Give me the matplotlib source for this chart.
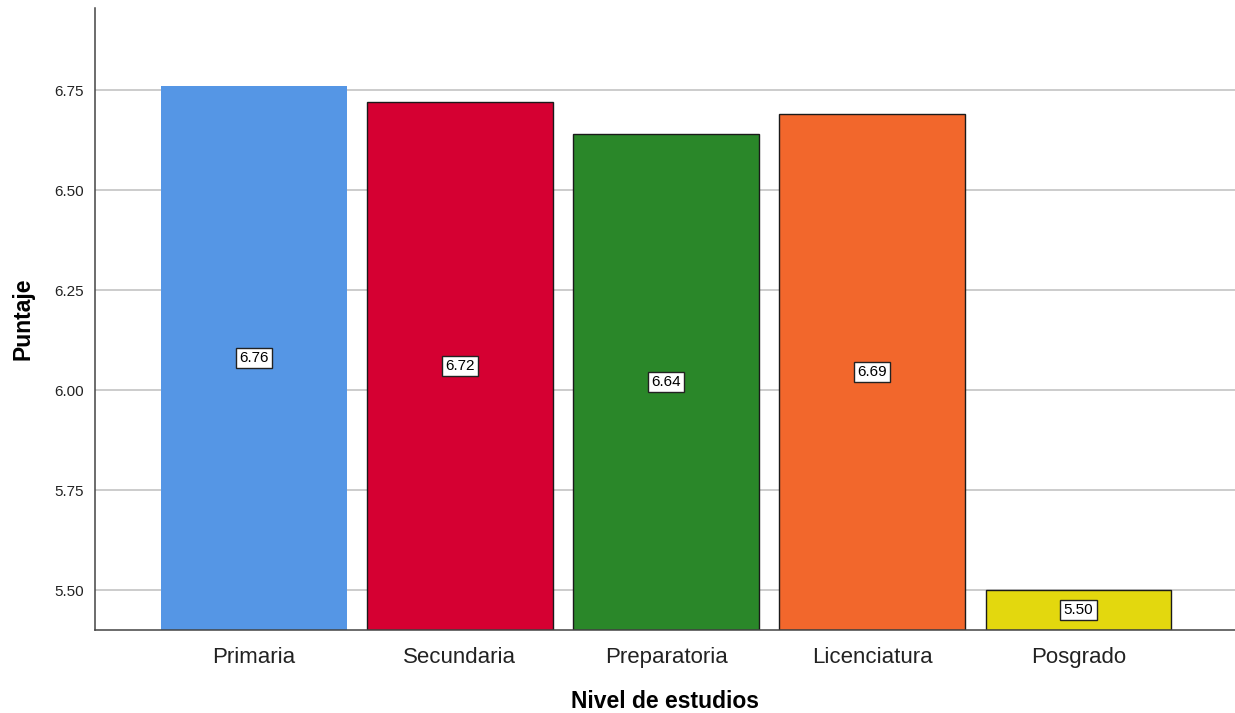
import matplotlib
matplotlib.use("Agg")
import matplotlib.pyplot as plt

plt.rcParams['font.family'] = ['Liberation Sans', 'DejaVu Sans']

categories = ["Primaria", "Secundaria", "Preparatoria", "Licenciatura", "Posgrado"]
puntajes = [6.76, 6.72, 6.64, 6.69, 5.50]
colores = ["#5596E5", "#D50032", "#2A8729", "#F2672C", "#E3D80E"]
bordes = ["none", "#1a1a1a", "#1a1a1a", "#1a1a1a", "#1a1a1a"]
yticks = [5.50, 5.75, 6.00, 6.25, 6.50, 6.75]
y_min, y_max = 5.40, 6.955

fig = plt.figure(figsize=(12.35, 7.13), dpi=100)
ax = fig.add_axes([95 / 1235, 1 - 630 / 713, 1 - 95 / 1235, (630 - 8) / 713])

x = list(range(len(categories)))
ax.set_axisbelow(True)
ax.yaxis.grid(True, color="#bfbfbf", linewidth=1.1)

bars = ax.bar(x, [v - y_min for v in puntajes], bottom=y_min, width=0.9,
              color=colores, edgecolor=bordes, linewidth=1.0, zorder=2)

for xi, v in zip(x, puntajes):
    ax.text(xi, (y_min + v) / 2, f"{v:.2f}", ha="center", va="center",
            fontsize=11, color="black", zorder=4,
            bbox=dict(boxstyle="square,pad=0.22", facecolor="white",
                      edgecolor="#222222", linewidth=1.0))

ax.set_xlim(-0.77, 4.76)
ax.set_ylim(y_min, y_max)
ax.set_yticks(yticks)
ax.set_yticklabels([f"{t:.2f}" for t in yticks], fontsize=11, color="#222222")
ax.set_xticks(x)
ax.set_xticklabels(categories, fontsize=16, color="#222222")
ax.tick_params(axis="x", length=0, pad=12)
ax.tick_params(axis="y", length=0, pad=8)

ax.spines["top"].set_visible(False)
ax.spines["right"].set_visible(False)
ax.spines["left"].set_color("#444444")
ax.spines["bottom"].set_color("#444444")
ax.spines["left"].set_linewidth(1.1)
ax.spines["bottom"].set_linewidth(1.1)

ax.set_xlabel("Nivel de estudios", fontsize=16.5, fontweight="bold", labelpad=16)
ax.set_ylabel("Puntaje", fontsize=16.5, fontweight="bold", labelpad=14)

fig.savefig("out.png", dpi=100)
